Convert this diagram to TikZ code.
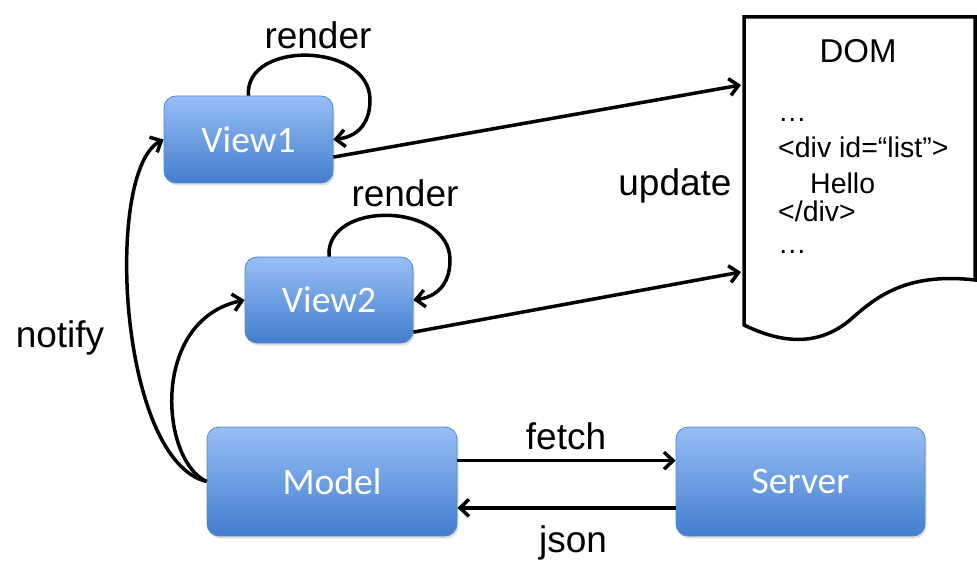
\documentclass[tikz,border=0pt]{standalone}
\usepackage{fontspec}
\setmainfont{Liberation Sans}
\newfontfamily\boxfont{Carlito}
\usetikzlibrary{arrows.meta,calc,shadows}
\definecolor{btop}{RGB}{152,190,247}
\definecolor{bbot}{RGB}{66,126,205}
\definecolor{bline}{RGB}{86,136,204}
\begin{document}
\begin{tikzpicture}[x=1pt,y=-1pt,
  box/.style={draw=bline,line width=0.8pt,rounded corners=12pt,top color=btop,bottom color=bbot,
    text=white,font=\boxfont\fontsize{37.5}{44}\selectfont,inner sep=0pt,
    drop shadow={opacity=0.25,shadow xshift=1.5pt,shadow yshift=-2.5pt}},
  lbl/.style={font=\fontsize{37}{44}\selectfont,inner sep=0pt},
  domtxt/.style={font=\fontsize{28.5}{34}\selectfont,inner sep=0pt,anchor=base west},
  conn/.style={line width=3.5pt,-{Straight Barb[length=9pt,width=17pt,line width=3.5pt]}},
]
\useasboundingbox (0,0) rectangle (977,569);
% boxes
\node[box,minimum width=169pt,minimum height=87pt] (View1) at (248.5,139.5) {View1};
\node[box,minimum width=168pt,minimum height=86pt] (View2) at (329,300) {View2};
\node[box,minimum width=250pt,minimum height=109pt] (Model) at (332,481.5) {Model};
\node[box,minimum width=249pt,minimum height=109pt] (Server) at (800.5,481.5) {Server};
% DOM document
\draw[line width=3.5pt,line join=miter] (744,17) -- (975,17) -- (975,280)
  .. controls (905,272) and (875,298) .. (850,320)
  .. controls (820,345) and (785,345) .. (744,325) -- cycle;
\coordinate (dom1) at (741,85);
\coordinate (dom2) at (741,272);
\node[lbl,font=\fontsize{33}{40}\selectfont,anchor=base] (domt) at (858,63) {DOM};
\node[domtxt] (l1) at (778,122) {…};
\node[domtxt] (l2) at (778,158) {<div id=“list”>};
\node[domtxt] (l3) at (810,194) {Hello};
\node[domtxt] (l4) at (778,222) {</div>};
\node[domtxt] (l5) at (778,254) {…};
% labels
\node[lbl] (r1) at (318,35) {render};
\node[lbl] (r2) at (405,193) {render};
\node[lbl] (up) at (675,186) {update};
\node[lbl] (nt) at (60,338) {notify};
\node[lbl] (fe) at (566,436) {fetch};
\node[lbl] (js) at (573,543) {json};
% connectors
\draw[conn] (View1.north) .. controls (244,40) and (370,42) .. (370,100)
  .. controls (370,125) and (356,137) .. (View1.east);
\draw[conn] (View2.north) .. controls (325,200) and (450,202) .. (450,260)
  .. controls (450,285) and (436,297) .. (View2.east);
\draw[conn] ($(View1.south east)!0.3!(View1.north east)$) -- (dom1);
\draw[conn] ($(View2.south east)!0.13!(View2.north east)$) -- (dom2);
\draw[conn] ($(Model.north east)!0.31!(Model.south east)$) -- ($(Server.north west)!0.31!(Server.south west)$);
\draw[conn] ($(Server.north west)!0.74!(Server.south west)$) -- ($(Model.north east)!0.74!(Model.south east)$);
\draw[conn] (Model.west) .. controls (118,460) and (104,170) .. (View1.west);
\draw[conn] (Model.west) .. controls (160,460) and (150,320) .. (View2.west);
\end{tikzpicture}
\end{document}
